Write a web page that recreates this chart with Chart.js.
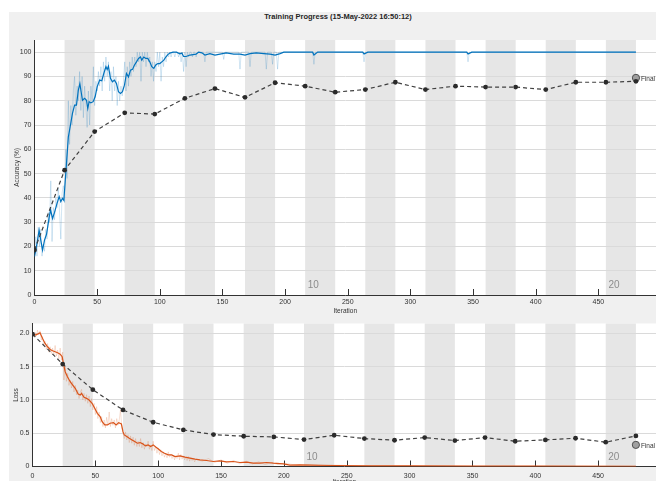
<!DOCTYPE html>
<html>
<head>
<meta charset="utf-8">
<script src="https://cdn.jsdelivr.net/npm/chart.js@4.4.1/dist/chart.umd.min.js"></script>
<style>
  html, body { margin: 0; padding: 0; background: #ffffff; overflow: hidden; width: 656px; height: 481px; }
  #panel { position: absolute; left: 9px; top: 12px; width: 700px; height: 500px; background: #f0f0f0; }
  #title { position: absolute; left: 0; top: 12px; width: 676px; text-align: center;
           font: bold 7.5px "Liberation Sans", Arial, sans-serif; color: #262626; }
  #accWrap { position: absolute; left: 0; top: 0; width: 656px; height: 330px; }
  #lossWrap { position: absolute; left: 0; top: 315px; width: 656px; height: 185px; }
</style>
</head>
<body>
<div id="panel"></div>
<div id="title">Training Progress (15-May-2022 16:50:12)</div>
<div id="accWrap"><canvas id="acc"></canvas></div>
<div id="lossWrap"><canvas id="loss"></canvas></div>
<script>
// ---- training schedule ----
const itersPerEpoch = 24;
const epochCount = 20;
const labelledEpochs = [10, 20];
const xTickLabels = [0, 50, 100, 150, 200, 250, 300, 350, 400, 450];

// ---- accuracy (%) ----
const accSmoothIter = [0, 1.6, 3.7, 5, 6.4, 8, 9.6, 11.7, 12.8, 14.4, 16, 18, 19.7, 21, 22.3, 23.4, 24.2, 25.5, 27, 28.7,
  30.3, 32, 33.5, 35, 36.2, 37.2, 38.3, 40, 41.5, 42.5, 43.6, 45, 46.8, 48.4, 50, 52, 53.7, 55.3, 57, 58, 59,
  60.6, 62.2, 63.8, 65.4, 67, 68.6, 70.2, 71.8, 73.4, 75, 76.6, 78.2, 79.8, 81.4, 83, 84.6, 85.6, 87.2, 88.8,
  90.4, 92, 93.6, 95.2, 96.8, 98.4, 100, 101.6, 103.2, 104.8, 106.4, 108, 110.6, 113.3, 116, 117.6, 119, 121,
  124, 126.6, 129, 131, 133.6, 136, 140, 144, 148, 153, 159, 164, 168, 172, 177, 183, 188, 192, 196, 199,
  222, 223, 226, 262, 263, 266, 345, 346, 349, 480];
const accSmooth = [15.8, 20, 26.7, 22.6, 18.5, 22.6, 25, 32, 35, 31.5, 34, 37.7, 40.5, 38.4, 39.8, 39, 44.6, 54, 65, 70,
  74.8, 78.2, 78.2, 84.4, 87, 83.7, 80.2, 81, 80.2, 76.8, 79.6, 79.1, 79.6, 81.6, 85.7, 88.5, 88.2, 91.2, 94, 92.9, 94.2,
  89.2, 87.8, 88.5, 87.1, 83.7, 83, 83.7, 86.4, 91.2, 89.8, 92.6, 92.9, 94.7, 96, 97.4, 98, 96.7, 98, 97.4,
  97.4, 96, 94, 93.3, 94.7, 95.3, 95.3, 96, 96.7, 98, 99, 99.6, 100, 100, 99.3, 99.6, 98.2, 98.2,
  98.8, 99, 99.2, 100, 99.7, 98.8, 99.4, 98.8, 99.2, 99.7, 99.2, 99.2, 98.8, 99.4, 99.7, 99.4, 99.2, 98.8, 99.4, 100,
  100, 98.8, 100, 100, 99.2, 100, 100, 99.2, 100, 100];
// per-iteration mini-batch accuracy, iterations 0..130
const rawAccFirst = [16, 24, 16, 28, 20, 27, 16, 21, 18, 27, 23, 34, 30, 47, 22, 36, 31, 40, 36, 44,
  34, 23, 42, 45, 38, 60, 48, 80, 62, 78, 70, 84, 90, 74, 86, 80, 92, 76, 90, 73,
  86, 78, 69, 84, 70, 86, 80, 94, 78, 88, 84, 92, 86, 94, 84, 96, 88, 98, 90, 96,
  84, 92, 80, 94, 84, 90, 78, 88, 80, 86, 82, 88, 96, 84, 94, 86, 96, 90, 98, 92,
  98, 94, 100, 96, 100, 88, 100, 96, 100, 94, 100, 96, 98, 90, 96, 88, 96, 92, 100, 94,
  100, 88, 98, 94, 100, 96, 100, 98, 100, 98, 100, 100, 98, 100, 100, 98, 100, 96, 100, 92,
  100, 94, 100, 98, 100, 100, 98, 100, 100, 98, 100];
const rawAccLaterIter = [135, 136, 137, 150, 151, 152, 163, 164, 165, 171, 172, 173, 184, 185, 186, 189, 190, 191,
  193, 194, 195, 222, 223, 224, 262, 263, 264, 345, 346, 347, 480];
const rawAccLater = [100, 96, 100, 100, 97, 100, 100, 93, 100, 100, 94, 100, 100, 93, 100, 100, 95, 100,
  100, 93, 100, 100, 95, 100, 100, 96, 100, 100, 96, 100, 100];

// ---- loss ----
const lossSmoothIter = [0, 2, 4, 6, 8, 10, 12, 14, 16, 18, 20, 22, 23.6, 24.6, 26, 27.8, 30, 32, 34, 36.3, 38, 39, 41,
  43, 45, 47.4, 49.5, 51.6, 53.8, 55.4, 57.5, 59.6, 61.7, 64.4, 66.5, 68.6, 70.7, 72, 73, 75, 77, 79.2, 81.3,
  83.4, 85.6, 87.7, 89.8, 92, 94, 96, 98.3, 100.4, 102.5, 105, 108, 110.7, 113.4, 117.4, 121.3, 125.3, 129.3,
  133.2, 138.5, 143.8, 149, 154.4, 159.7, 165, 170.3, 175.6, 181, 186.2, 191.5, 199.5, 204.8, 212.7, 220.7,
  240, 270, 300, 350, 400, 480];
const lossSmooth = [1.99, 1.975, 1.99, 2.01, 1.925, 1.85, 1.8, 1.76, 1.74, 1.725, 1.71, 1.69, 1.65, 1.55, 1.425, 1.35,
  1.275, 1.225, 1.175, 1.09, 1.075, 1.1, 1.04, 1.025, 1.0, 0.95, 0.875, 0.8, 0.75, 0.675, 0.625, 0.625, 0.65, 0.66,
  0.625, 0.66, 0.64, 0.52, 0.475, 0.45, 0.425, 0.4, 0.375, 0.35, 0.36, 0.34, 0.31, 0.325, 0.3, 0.325, 0.29, 0.26,
  0.225, 0.2, 0.175, 0.175, 0.15, 0.16, 0.14, 0.125, 0.11, 0.1, 0.09, 0.075, 0.085, 0.07, 0.075, 0.06, 0.065,
  0.05, 0.05, 0.06, 0.05, 0.04, 0.02, 0.025, 0.02, 0.015, 0.01, 0.008, 0.006, 0.005, 0.004];
// per-iteration mini-batch loss, iterations 0..130
const rawLossFirst = [2.0, 1.95, 2.02, 1.96, 2.05, 1.98, 2.04, 1.9, 1.95, 1.82, 1.88, 1.76, 1.85, 1.72, 1.8, 1.7,
  1.78, 1.68, 1.82, 1.66, 1.75, 1.62, 1.78, 1.6, 1.72, 1.3, 1.5, 1.28, 1.4, 1.22, 1.3, 1.18, 1.28, 1.12, 1.22,
  1.08, 1.15, 1.02, 1.12, 1.16, 1.0, 1.1, 0.98, 1.08, 0.95, 1.06, 0.9, 1.02, 0.85, 0.95, 0.78, 0.9, 0.72, 0.82,
  0.66, 0.75, 0.6, 0.7, 0.58, 0.74, 0.62, 0.82, 0.6, 0.72, 0.62, 0.7, 0.58, 0.72, 0.62, 0.7, 0.85, 0.6, 0.5,
  0.42, 0.52, 0.4, 0.48, 0.36, 0.46, 0.35, 0.44, 0.32, 0.42, 0.3, 0.38, 0.3, 0.42, 0.28, 0.36, 0.26, 0.34, 0.3,
  0.38, 0.26, 0.32, 0.24, 0.38, 0.24, 0.3, 0.2, 0.28, 0.18, 0.25, 0.16, 0.22, 0.14, 0.2, 0.13, 0.22, 0.14, 0.18,
  0.12, 0.17, 0.1, 0.16, 0.12, 0.2, 0.1, 0.18, 0.11, 0.16, 0.1, 0.14, 0.09, 0.15, 0.08, 0.13, 0.09, 0.12, 0.07, 0.11];
const rawLossLaterIter = [135, 140, 145, 150, 155, 160, 165, 170, 175, 180, 185, 190, 195, 200, 210, 220, 230, 240,
  260, 300, 350, 400, 480];
const rawLossLater = [0.08, 0.12, 0.06, 0.1, 0.05, 0.09, 0.04, 0.08, 0.04, 0.07, 0.03, 0.06, 0.03, 0.05, 0.02, 0.03,
  0.01, 0.02, 0.01, 0.01, 0.005, 0.005, 0.004];

// ---- validation, once per epoch ----
const valIter = [0, 24, 48, 72, 96, 120, 144, 168, 192, 216, 240, 264, 288, 312, 336, 360, 384, 408, 432, 456, 480];
const valAcc = [18.5, 51.4, 67.3, 75, 74.5, 81, 85, 81.4, 87.4, 86, 83.5, 84.6, 87.6, 84.6, 86, 85.6, 85.6, 84.6, 87.6, 87.6, 88];
const valLoss = [1.99, 1.54, 1.155, 0.85, 0.665, 0.55, 0.48, 0.455, 0.445, 0.405, 0.47, 0.42, 0.395, 0.435, 0.39, 0.435, 0.38, 0.40, 0.425, 0.365, 0.46];
const finalIter = 480;
const finalAcc = 89.4;
const finalLoss = 0.325;

// ---- helpers ----
const pairs = (xs, ys) => xs.map((x, i) => ({ x, y: ys[i] }));
const seq = (ys) => ys.map((y, i) => ({ x: i, y }));
const FONT = '"Liberation Sans", Arial, sans-serif';
const INK = '#333333';

// shaded epochs, inward x ticks, epoch numbers, "Final" tag
const trainingDecor = {
  id: 'trainingDecor',
  beforeDraw(chart) {
    const { ctx, chartArea: a, scales: { x } } = chart;
    ctx.save();
    ctx.fillStyle = '#ffffff';
    ctx.fillRect(a.left, a.top, a.right - a.left, a.bottom - a.top);
    ctx.fillStyle = '#e6e6e6';
    for (let e = 2; e <= epochCount; e += 2) {
      const x0 = x.getPixelForValue((e - 1) * itersPerEpoch);
      const x1 = x.getPixelForValue(e * itersPerEpoch);
      ctx.fillRect(x0, a.top, x1 - x0, a.bottom - a.top);
    }
    ctx.restore();
  },
  beforeDatasetsDraw(chart) {
    const { ctx, chartArea: a, scales: { x } } = chart;
    ctx.save();
    ctx.strokeStyle = INK;
    ctx.lineWidth = 1;
    xTickLabels.forEach(v => {
      if (v === 0) return;
      const px = Math.round(x.getPixelForValue(v)) + 0.5;
      ctx.beginPath();
      ctx.moveTo(px, a.bottom);
      ctx.lineTo(px, a.bottom - 6);
      ctx.stroke();
    });
    ctx.fillStyle = '#8c8c8c';
    ctx.font = '10px ' + FONT;
    ctx.textAlign = 'left';
    ctx.textBaseline = 'alphabetic';
    labelledEpochs.forEach(e => {
      const px = x.getPixelForValue((e - 1) * itersPerEpoch);
      ctx.fillText(String(e), px + 2.5, a.bottom - 7);
    });
    ctx.restore();
  },
  afterDatasetsDraw(chart) {
    const opts = chart.options.plugins.trainingDecor;
    const { ctx, scales: { x, y } } = chart;
    ctx.save();
    ctx.fillStyle = INK;
    ctx.font = '6.5px ' + FONT;
    ctx.textAlign = 'left';
    ctx.textBaseline = 'middle';
    ctx.fillText('Final', x.getPixelForValue(finalIter) + 5, y.getPixelForValue(opts.finalValue) + 1);
    ctx.restore();
  }
};

function makeChart(id, cfg) {
  const tickFont = { family: FONT, size: 7 };
  return new Chart(document.getElementById(id), {
    type: 'line',
    data: {
      datasets: [
        { data: pairs(valIter, cfg.val), borderColor: '#404040', borderWidth: 1.2, borderDash: [4, 3],
          pointRadius: 2.4, pointBackgroundColor: '#2b2b2b', pointBorderColor: '#2b2b2b', pointBorderWidth: 0 },
        { data: [{ x: finalIter, y: cfg.final }], showLine: false, pointRadius: 3.6,
          pointBackgroundColor: '#a0a0a0', pointBorderColor: '#505050', pointBorderWidth: 1 },
        { data: pairs(cfg.smoothIter, cfg.smooth), borderColor: cfg.color, borderWidth: 1.2, pointRadius: 0 },
        { data: cfg.raw, borderColor: cfg.rawColor, borderWidth: 0.9, pointRadius: 0 }
      ]
    },
    options: {
      responsive: true,
      maintainAspectRatio: false,
      animation: false,
      events: [],
      layout: { autoPadding: false, padding: { top: cfg.padTop, left: 0, right: 0, bottom: 0 } },
      plugins: { legend: { display: false }, tooltip: { enabled: false }, trainingDecor: { finalValue: cfg.final } },
      scales: {
        x: {
          type: 'linear', min: 0, max: 496,
          grid: { display: false, drawTicks: false },
          border: { display: true, color: INK, width: 1 },
          ticks: { stepSize: 50, color: INK, font: tickFont, padding: cfg.xTickPad, maxRotation: 0 },
          afterBuildTicks: s => { s.ticks = s.ticks.filter(t => xTickLabels.includes(t.value)); },
          afterFit: s => { s.height = cfg.xHeight; },
          title: { display: true, text: 'Iteration', color: INK, font: { family: FONT, size: 6.5 },
                   padding: { top: 0, bottom: cfg.xTitlePad } }
        },
        y: {
          min: 0, max: cfg.yMax,
          grid: { color: '#dadada', lineWidth: 1, drawTicks: false },
          border: { display: true, color: INK, width: 1 },
          ticks: { stepSize: cfg.yStep, color: INK, font: tickFont, padding: 3 },
          afterBuildTicks: s => { s.ticks = s.ticks.filter(t => cfg.yTicks.includes(t.value)); },
          afterFit: s => { s.width = cfg.yWidth; },
          title: { display: true, text: cfg.yTitle, color: INK, font: { family: FONT, size: 6.5 },
                   padding: { top: cfg.yTitlePad, bottom: 0 } }
        }
      }
    },
    plugins: [trainingDecor]
  });
}

const accTicks = [0, 10, 20, 30, 40, 50, 60, 70, 80, 90, 100];
const lossTicks = [0, 0.5, 1, 1.5, 2];

makeChart('acc', {
  val: valAcc, final: finalAcc, smoothIter: accSmoothIter, smooth: accSmooth,
  raw: seq(rawAccFirst).concat(pairs(rawAccLaterIter, rawAccLater)),
  color: '#0072BD', rawColor: 'rgba(0,114,189,0.2)',
  yMax: 105, yStep: 10, yTicks: accTicks, yTitle: 'Accuracy (%)',
  padTop: 40, xHeight: 35, xTickPad: 3, xTitlePad: 14.5, yWidth: 34.5, yTitlePad: 13.5
});

makeChart('loss', {
  val: valLoss, final: finalLoss, smoothIter: lossSmoothIter, smooth: lossSmooth,
  raw: seq(rawLossFirst).concat(pairs(rawLossLaterIter, rawLossLater)),
  color: '#D95319', rawColor: 'rgba(217,83,25,0.2)',
  yMax: 2.15, yStep: 0.5, yTicks: lossTicks, yTitle: 'Loss',
  padTop: 8.5, xHeight: 33.5, xTickPad: 5, xTitlePad: 14, yWidth: 32.5, yTitlePad: 12
});
</script>
</body>
</html>
